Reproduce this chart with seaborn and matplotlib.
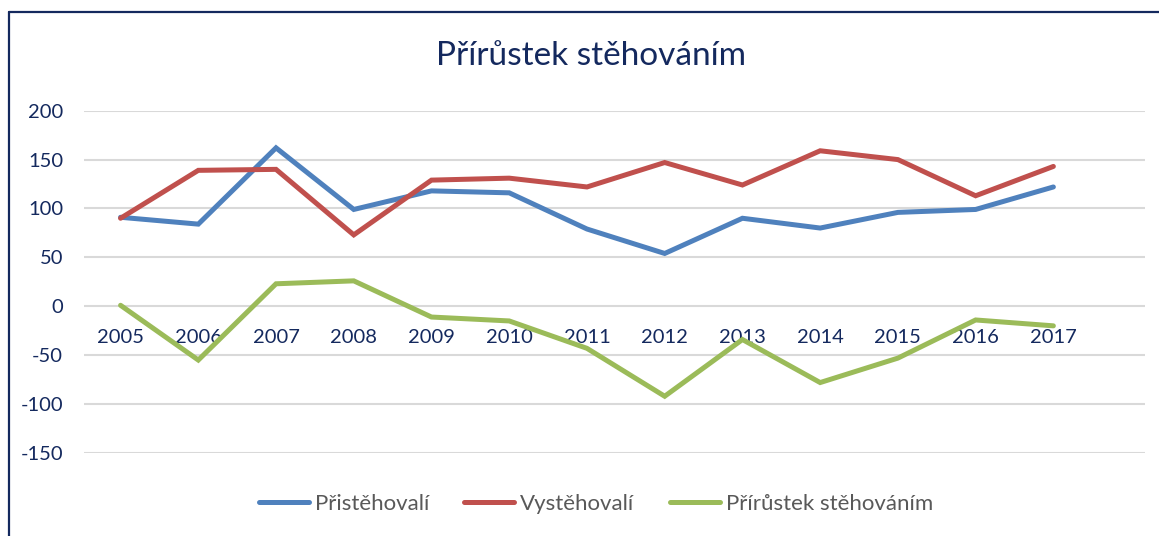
import pandas as pd
import seaborn as sns
import matplotlib.pyplot as plt
from matplotlib.lines import Line2D

# Data
years = [2005, 2006, 2007, 2008, 2009, 2010, 2011, 2012, 2013, 2014, 2015, 2016, 2017]
pristehovali = [91, 84, 162, 99, 118, 116, 79, 54, 90, 80, 96, 99, 122]
vystehovali = [90, 139, 140, 73, 129, 131, 122, 147, 124, 159, 150, 113, 143]
prirustek = [1, -55, 23, 26, -11, -15, -43, -92, -34, -78, -53, -14, -20]

series_names = ['Přistěhovalí', 'Vystěhovalí', 'Přírůstek stěhováním']
colors = ['#4F81BD', '#C0504D', '#9BBB59']
title = 'Přírůstek stěhováním'
navy = '#14295E'

df = pd.concat([
    pd.DataFrame({'rok': years, 'hodnota': pristehovali, 'serie': series_names[0]}),
    pd.DataFrame({'rok': years, 'hodnota': vystehovali, 'serie': series_names[1]}),
    pd.DataFrame({'rok': years, 'hodnota': prirustek, 'serie': series_names[2]}),
], ignore_index=True)

sns.set_style('white')
plt.rcParams['font.family'] = ['Lato', 'DejaVu Sans']
plt.rcParams['axes.unicode_minus'] = False

fig = plt.figure(figsize=(11.59, 5.36), dpi=100)
ax = fig.add_axes([0.0725, 0.1549, 0.9155, 0.6386])

sns.lineplot(data=df, x='rok', y='hodnota', hue='serie', hue_order=series_names,
             palette=colors, linewidth=3.6, ax=ax, legend=False,
             solid_capstyle='round', solid_joinstyle='miter')

ax.set_xlim(years[0] - 0.47, years[0] + 13.18)
ax.set_ylim(-150, 200)
ax.set_yticks(range(-150, 201, 50))
ax.set_xticks(years)
ax.set_xticklabels([str(y) for y in years])
ax.yaxis.grid(True, color='#D9D9D9', linewidth=1.5)
ax.set_axisbelow(True)
ax.set_xlabel('')
ax.set_ylabel('')

for s in ax.spines.values():
    s.set_color('none')
ax.spines['bottom'].set_position(('data', 0))

ax.tick_params(axis='y', length=0, pad=15, labelsize=14.5, labelcolor=navy)
ax.tick_params(axis='x', length=0, pad=16.5, labelsize=14.5, labelcolor=navy)

fig.text(591 / 1159, 1 - 56 / 536, title, ha='center', va='center',
         fontsize=24, color=navy)

handles = [Line2D([0], [0], color=c, linewidth=3.6, solid_capstyle='round') for c in colors]
fig.legend(handles, series_names, loc='center', bbox_to_anchor=(596 / 1159, 1 - 504 / 536),
           ncol=3, frameon=False, fontsize=16, labelcolor='#595959',
           handlelength=2.25, handletextpad=0.27, columnspacing=1.6)

# outer frame (top and left edges visible in the reference)
fig.add_artist(Line2D([9 / 1159, 9 / 1159], [0, 1 - 12 / 536], transform=fig.transFigure,
                      color=navy, linewidth=1.6))
fig.add_artist(Line2D([9 / 1159, 1], [1 - 12 / 536, 1 - 12 / 536], transform=fig.transFigure,
                      color=navy, linewidth=1.6))

fig.savefig('out.png', dpi=100)
